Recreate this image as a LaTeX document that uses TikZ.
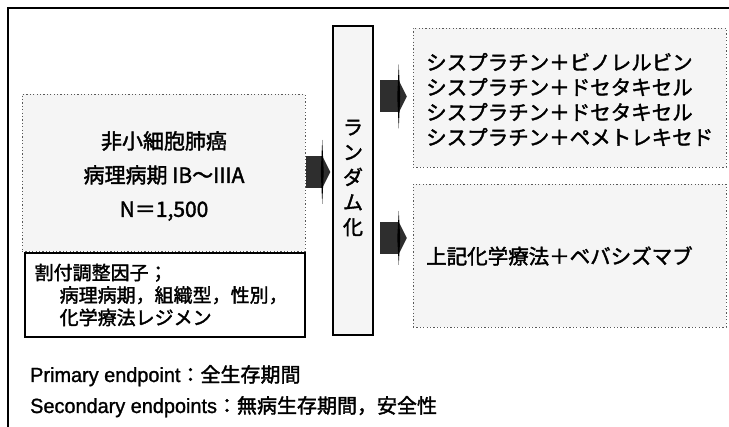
\documentclass[tikz,border=0pt]{standalone}
\usepackage{fontspec}
\setmainfont{Noto Sans CJK JP}[FakeBold=1.8]
\newfontfamily\latinfont{Liberation Sans}[FakeBold=1.2, FakeStretch=0.97]
\usetikzlibrary{calc}
\tikzset{
  frameline/.style={line width=1.4pt, black},
  stipplebox/.style={draw=black!65, line width=0.9pt, dash pattern=on 1.2pt off 2.2pt, fill=black!4, inner sep=0pt},
  randbox/.style={draw, line width=1.5pt, fill=black!4, inner sep=0pt, minimum width=40pt, minimum height=309pt},
  adjbox/.style={draw, line width=1.1pt, inner sep=0pt, minimum width=280pt, minimum height=84pt},
  bigtxt/.style={inner sep=0pt, font=\fontsize{20.5pt}{25pt}\selectfont, align=left},
  pattxt/.style={inner sep=0pt, font=\fontsize{21pt}{34pt}\selectfont, align=center},
  adjtxt/.style={inner sep=0pt, font=\fontsize{19pt}{22.5pt}\selectfont, align=left},
  endtxt/.style={inner sep=0pt, anchor=base west, font=\fontsize{20pt}{24pt}\selectfont},
  shaft/.style={fill=black!82},
  spike/.style={fill=black},
}
% block arrow: #1 = start coordinate (left end, centre line), #2 shaft length, #3 shaft half height, #4 head half height, #5 tip length
\newcommand{\blockarrow}[5]{%
  \fill[shaft] ($(#1)+(0,-#3)$) rectangle ($(#1)+(#2,#3)$);
  \fill[shaft] ($(#1)+(#2,-#3)$) -- ($(#1)+(#2+#5,0)$) -- ($(#1)+(#2,#3)$) -- cycle;
  \fill[spike] ($(#1)+(#2,-#4)$) -- ($(#1)+(#2+1.5,0)$) -- ($(#1)+(#2,#4)$) -- ($(#1)+(#2-1.5,0)$) -- cycle;
}
\begin{document}
\begin{tikzpicture}[x=1pt,y=-1pt]
\useasboundingbox (0,0) rectangle (729,427);
% outer frame (open at right and bottom)
\draw[frameline] (8,427) -- (8,8) -- (729,8);

% patient box
\node[stipplebox, minimum width=283pt, minimum height=157pt] (pat) at (163.5,173) {};
\node[pattxt] (pattext) at (164,176) {非小細胞肺癌\\病理病期 IB〜IIIA\\N＝1,500};

% adjustment factors
\node[adjbox] (adj) at (165,295) {};
\node[adjtxt, anchor=west] (adjtext) at ($(adj.west)+(10,0)$) {割付調整因子；\\\hspace*{25pt}病理病期，組織型，性別，\\\hspace*{25pt}化学療法レジメン};

% randomisation
\node[randbox] (rand) at (353,180.5) {};
\node[inner sep=0pt, font=\fontsize{20pt}{25pt}\selectfont, align=center] (randtext) at (353,178) {ラ\\ン\\ダ\\ム\\化};

% arms
\node[stipplebox, minimum width=313pt, minimum height=139pt] (arm1) at (569.5,97.5) {};
\node[bigtxt, anchor=west] (arm1text) at (426,99.5) {シスプラチン＋ビノレルビン\\シスプラチン＋ドセタキセル\\シスプラチン＋ドセタキセル\\シスプラチン＋ペメトレキセド};
\node[stipplebox, minimum width=313pt, minimum height=143pt] (arm2) at (569.5,255.5) {};
\node[bigtxt, anchor=west] (arm2text) at (426,256) {上記化学療法＋ベバシズマブ};

% arrows
\coordinate (a0) at ($(rand.west |- pattext.center)+(-26,-4)$);
\coordinate (a1) at ($(rand.east |- arm1.center)+(6,-1)$);
\coordinate (a2) at ($(rand.east |- 0,238)+(6,0)$);
\blockarrow{a0}{16}{16}{32}{8}
\blockarrow{a1}{19}{16}{32}{8}
\blockarrow{a2}{19}{16}{27}{8}

% endpoints
\node[endtxt] (ep1) at (30,382) {{\latinfont\fontsize{20.5pt}{24pt}\selectfont Primary endpoint}：全生存期間};
\node[endtxt] (ep2) at (30,413) {{\latinfont\fontsize{20.5pt}{24pt}\selectfont Secondary endpoints}：無病生存期間，安全性};
\end{tikzpicture}
\end{document}
